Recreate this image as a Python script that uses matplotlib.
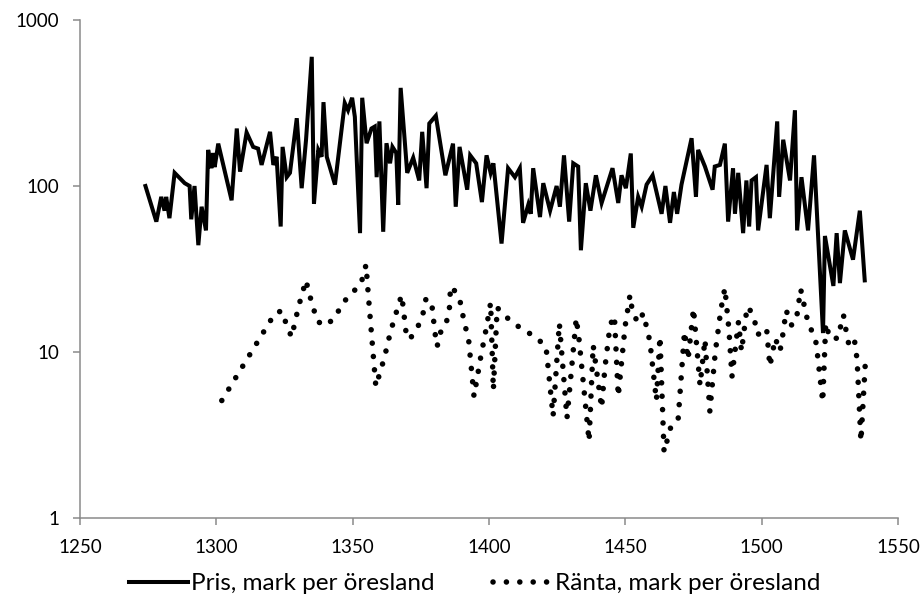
import matplotlib
matplotlib.use("Agg")
import matplotlib.pyplot as plt
from matplotlib.ticker import FixedLocator, NullLocator

plt.rcParams.update({"font.family": ["Lato", "DejaVu Sans"], "font.size": 12})
INK = "#000000"; AXIS = "#8a8a8a"

# ---------------------------------------------------------------- data
pris_year = [1274.0, 1278.0, 1279.8, 1281.0, 1281.6, 1282.8, 1284.7, 1288.4, 1290.2, 1290.8,
             1292.0, 1293.4, 1294.6, 1296.2, 1297.0, 1298.2, 1298.8, 1299.4, 1300.7, 1305.6,
             1307.5, 1308.7, 1311.1, 1313.5, 1315.3, 1316.6, 1319.7, 1320.9, 1322.1, 1323.6,
             1324.3, 1325.8, 1327.0, 1329.5, 1331.3, 1332.9, 1335.0, 1335.8, 1337.4, 1338.6,
             1339.3, 1340.5, 1343.5, 1347.1, 1348.3, 1349.8, 1350.8, 1352.7, 1353.5, 1355.1,
             1356.9, 1358.1, 1358.8, 1359.8, 1361.2, 1362.4, 1363.7, 1364.6, 1366.0, 1366.7,
             1367.6, 1370.0, 1372.2, 1374.4, 1375.5, 1377.1, 1378.1, 1380.5, 1384.0, 1386.8,
             1387.8, 1389.2, 1392.0, 1393.1, 1395.3, 1397.4, 1399.1, 1400.6, 1401.6, 1404.6,
             1407.0, 1409.5, 1411.3, 1412.5, 1414.4, 1415.3, 1416.2, 1418.7, 1419.9, 1422.4,
             1424.8, 1426.0, 1427.5, 1429.4, 1430.9, 1432.7, 1433.7, 1435.5, 1437.2, 1439.2,
             1441.3, 1445.3, 1447.4, 1448.6, 1450.2, 1452.0, 1452.9, 1454.7, 1456.0, 1457.8,
             1460.0, 1463.3, 1464.7, 1466.4, 1467.8, 1469.0, 1470.6, 1474.3, 1475.9, 1476.7,
             1479.2, 1482.0, 1482.8, 1484.7, 1486.5, 1487.7, 1489.5, 1490.2, 1491.4, 1493.2,
             1494.4, 1495.4, 1496.3, 1497.9, 1498.7, 1501.8, 1503.0, 1505.7, 1506.4, 1507.9,
             1510.4, 1512.2, 1513.0, 1514.6, 1517.0, 1519.2, 1522.5, 1523.2, 1526.3, 1527.5,
             1528.7, 1530.5, 1533.5, 1536.0, 1537.8]
pris_val = [100, 61, 86, 71, 86, 64, 120, 104, 100, 63,
            100, 44, 75, 54, 165, 128, 158, 130, 180, 82,
            222, 122, 210, 172, 168, 134, 212, 134, 150, 57,
            172, 113, 120, 256, 97, 190, 600, 78, 165, 150,
            320, 150, 102, 316, 286, 340, 261, 52, 340, 181,
            222, 228, 113, 245, 53, 181, 137, 172, 158, 77,
            390, 120, 148, 108, 212, 97, 238, 265, 116, 180,
            75, 172, 95, 153, 137, 80, 153, 120, 137, 45,
            128, 113, 128, 60, 77, 68, 128, 65, 104, 71,
            100, 75, 153, 61, 137, 131, 41, 104, 71, 116,
            79, 128, 79, 116, 97, 157, 56, 86, 75, 102,
            116, 68, 100, 60, 92, 68, 102, 194, 86, 165,
            131, 95, 131, 134, 180, 61, 128, 68, 120, 52,
            108, 57, 108, 113, 54, 134, 64, 245, 86, 190,
            108, 286, 54, 113, 54, 153, 13, 50, 25, 52,
            26, 54, 36, 71, 27]

ranta_year = [1302.0, 1321.5, 1324.0, 1325.8, 1327.6, 1328.8, 1330.0, 1331.3, 1332.9, 1334.0,
              1335.5, 1336.8, 1339.8, 1343.5, 1346.0, 1349.6, 1353.0, 1354.9, 1355.7, 1357.0,
              1358.5, 1360.0, 1361.6, 1364.0, 1365.5, 1367.0, 1368.0, 1369.2, 1369.8, 1371.2,
              1374.0, 1375.9, 1376.9, 1379.0, 1380.2, 1381.0, 1382.0, 1383.8, 1385.4, 1385.9,
              1387.0, 1389.4, 1391.0, 1392.5, 1394.5, 1397.0, 1399.0, 1400.6, 1401.6, 1403.0,
              1408.0, 1412.3, 1416.8, 1420.9, 1423.5, 1425.8, 1428.6, 1432.0, 1433.0, 1436.7,
              1438.2, 1441.3, 1442.5, 1444.4, 1446.0, 1447.4, 1449.9, 1451.7, 1452.5, 1454.5,
              1456.6, 1459.0, 1461.4, 1462.7, 1464.2, 1467.0, 1469.4, 1471.7, 1473.0, 1475.0,
              1477.4, 1479.2, 1481.0, 1483.0, 1485.0, 1486.5, 1488.0, 1489.1, 1491.5, 1492.6,
              1494.5, 1495.2, 1497.5, 1498.5, 1501.8, 1503.0, 1505.0, 1506.7, 1507.5, 1509.0,
              1511.0, 1512.8, 1514.3, 1516.5, 1518.2, 1520.0, 1522.4, 1523.5, 1525.0, 1528.0,
              1529.2, 1530.0, 1531.0, 1532.0, 1534.0, 1535.0, 1536.4, 1538.0, 1539.0]
ranta_val = [5.1, 17.1, 17.7, 14.5, 12.3, 15.0, 18.3, 22.0, 27.0, 22.5,
             18.8, 15.4, 14.4, 16.0, 19.4, 22.6, 25.6, 33.5, 22.5, 12.3,
             6.2, 7.5, 9.2, 13.5, 16.2, 19.8, 22.0, 14.9, 12.1, 12.1,
             14.3, 17.3, 21.0, 19.6, 13.0, 10.8, 13.0, 14.1, 17.3, 24.8,
             24.0, 20.2, 14.9, 12.0, 5.4, 9.4, 13.9, 19.8, 5.9, 18.5,
             15.3, 13.7, 12.4, 10.8, 4.1, 14.9, 4.0, 16.0, 12.0, 2.9,
             11.0, 4.6, 8.0, 14.5, 16.5, 5.4, 14.2, 22.0, 18.0, 15.0,
             17.1, 11.6, 5.1, 12.4, 2.5, 3.7, 4.0, 13.3, 9.0, 18.3,
             6.3, 11.9, 4.4, 10.0, 17.8, 24.3, 13.6, 7.1, 15.2, 10.1,
             17.8, 18.8, 15.2, 12.7, 13.9, 8.2, 12.1, 10.1, 11.9, 17.8,
             14.5, 16.0, 23.9, 16.3, 13.6, 11.3, 5.0, 14.9, 12.1, 12.1,
             14.9, 16.7, 13.3, 11.0, 11.9, 9.0, 2.9, 8.5, 9.0]

x_ticks = [1250, 1300, 1350, 1400, 1450, 1500, 1550]
y_ticks = [1, 10, 100, 1000]
labels = ["Pris, mark per öresland", "Ränta, mark per öresland"]

# ---------------------------------------------------------------- figure
fig = plt.figure(figsize=(9.21, 6.0), dpi=100)
ax = fig.add_axes([80 / 921, 82 / 600, 818 / 921, 498 / 600])

ax.plot(pris_year, pris_val, color=INK, lw=2.9, solid_joinstyle="miter", label=labels[0])
ax.plot(ranta_year, ranta_val, color=INK, lw=4.0, linestyle=(0, (0.01, 2.4)),
        dash_capstyle="round", label=labels[1])

ax.set_yscale("log")
ax.set_xlim(1250, 1550); ax.set_ylim(1, 1000)
ax.xaxis.set_major_locator(FixedLocator(x_ticks))
ax.yaxis.set_major_locator(FixedLocator(y_ticks))
ax.yaxis.set_minor_locator(NullLocator())
ax.set_yticklabels([str(v) for v in y_ticks])
ax.set_xticklabels([str(v) for v in x_ticks])

for s in ("top", "right"):
    ax.spines[s].set_visible(False)
for s in ("left", "bottom"):
    ax.spines[s].set_color(AXIS); ax.spines[s].set_linewidth(1.1)
ax.tick_params(axis="both", direction="out", length=5, width=1.1, color=AXIS,
               labelcolor=INK, labelsize=13.5, pad=10)

fig.legend(loc="center", bbox_to_anchor=(0.515, 0.027), ncol=2, frameon=False,
           fontsize=17.5, handlelength=2.45, handletextpad=0.1, columnspacing=2.4)

fig.savefig("out.png", dpi=100)
